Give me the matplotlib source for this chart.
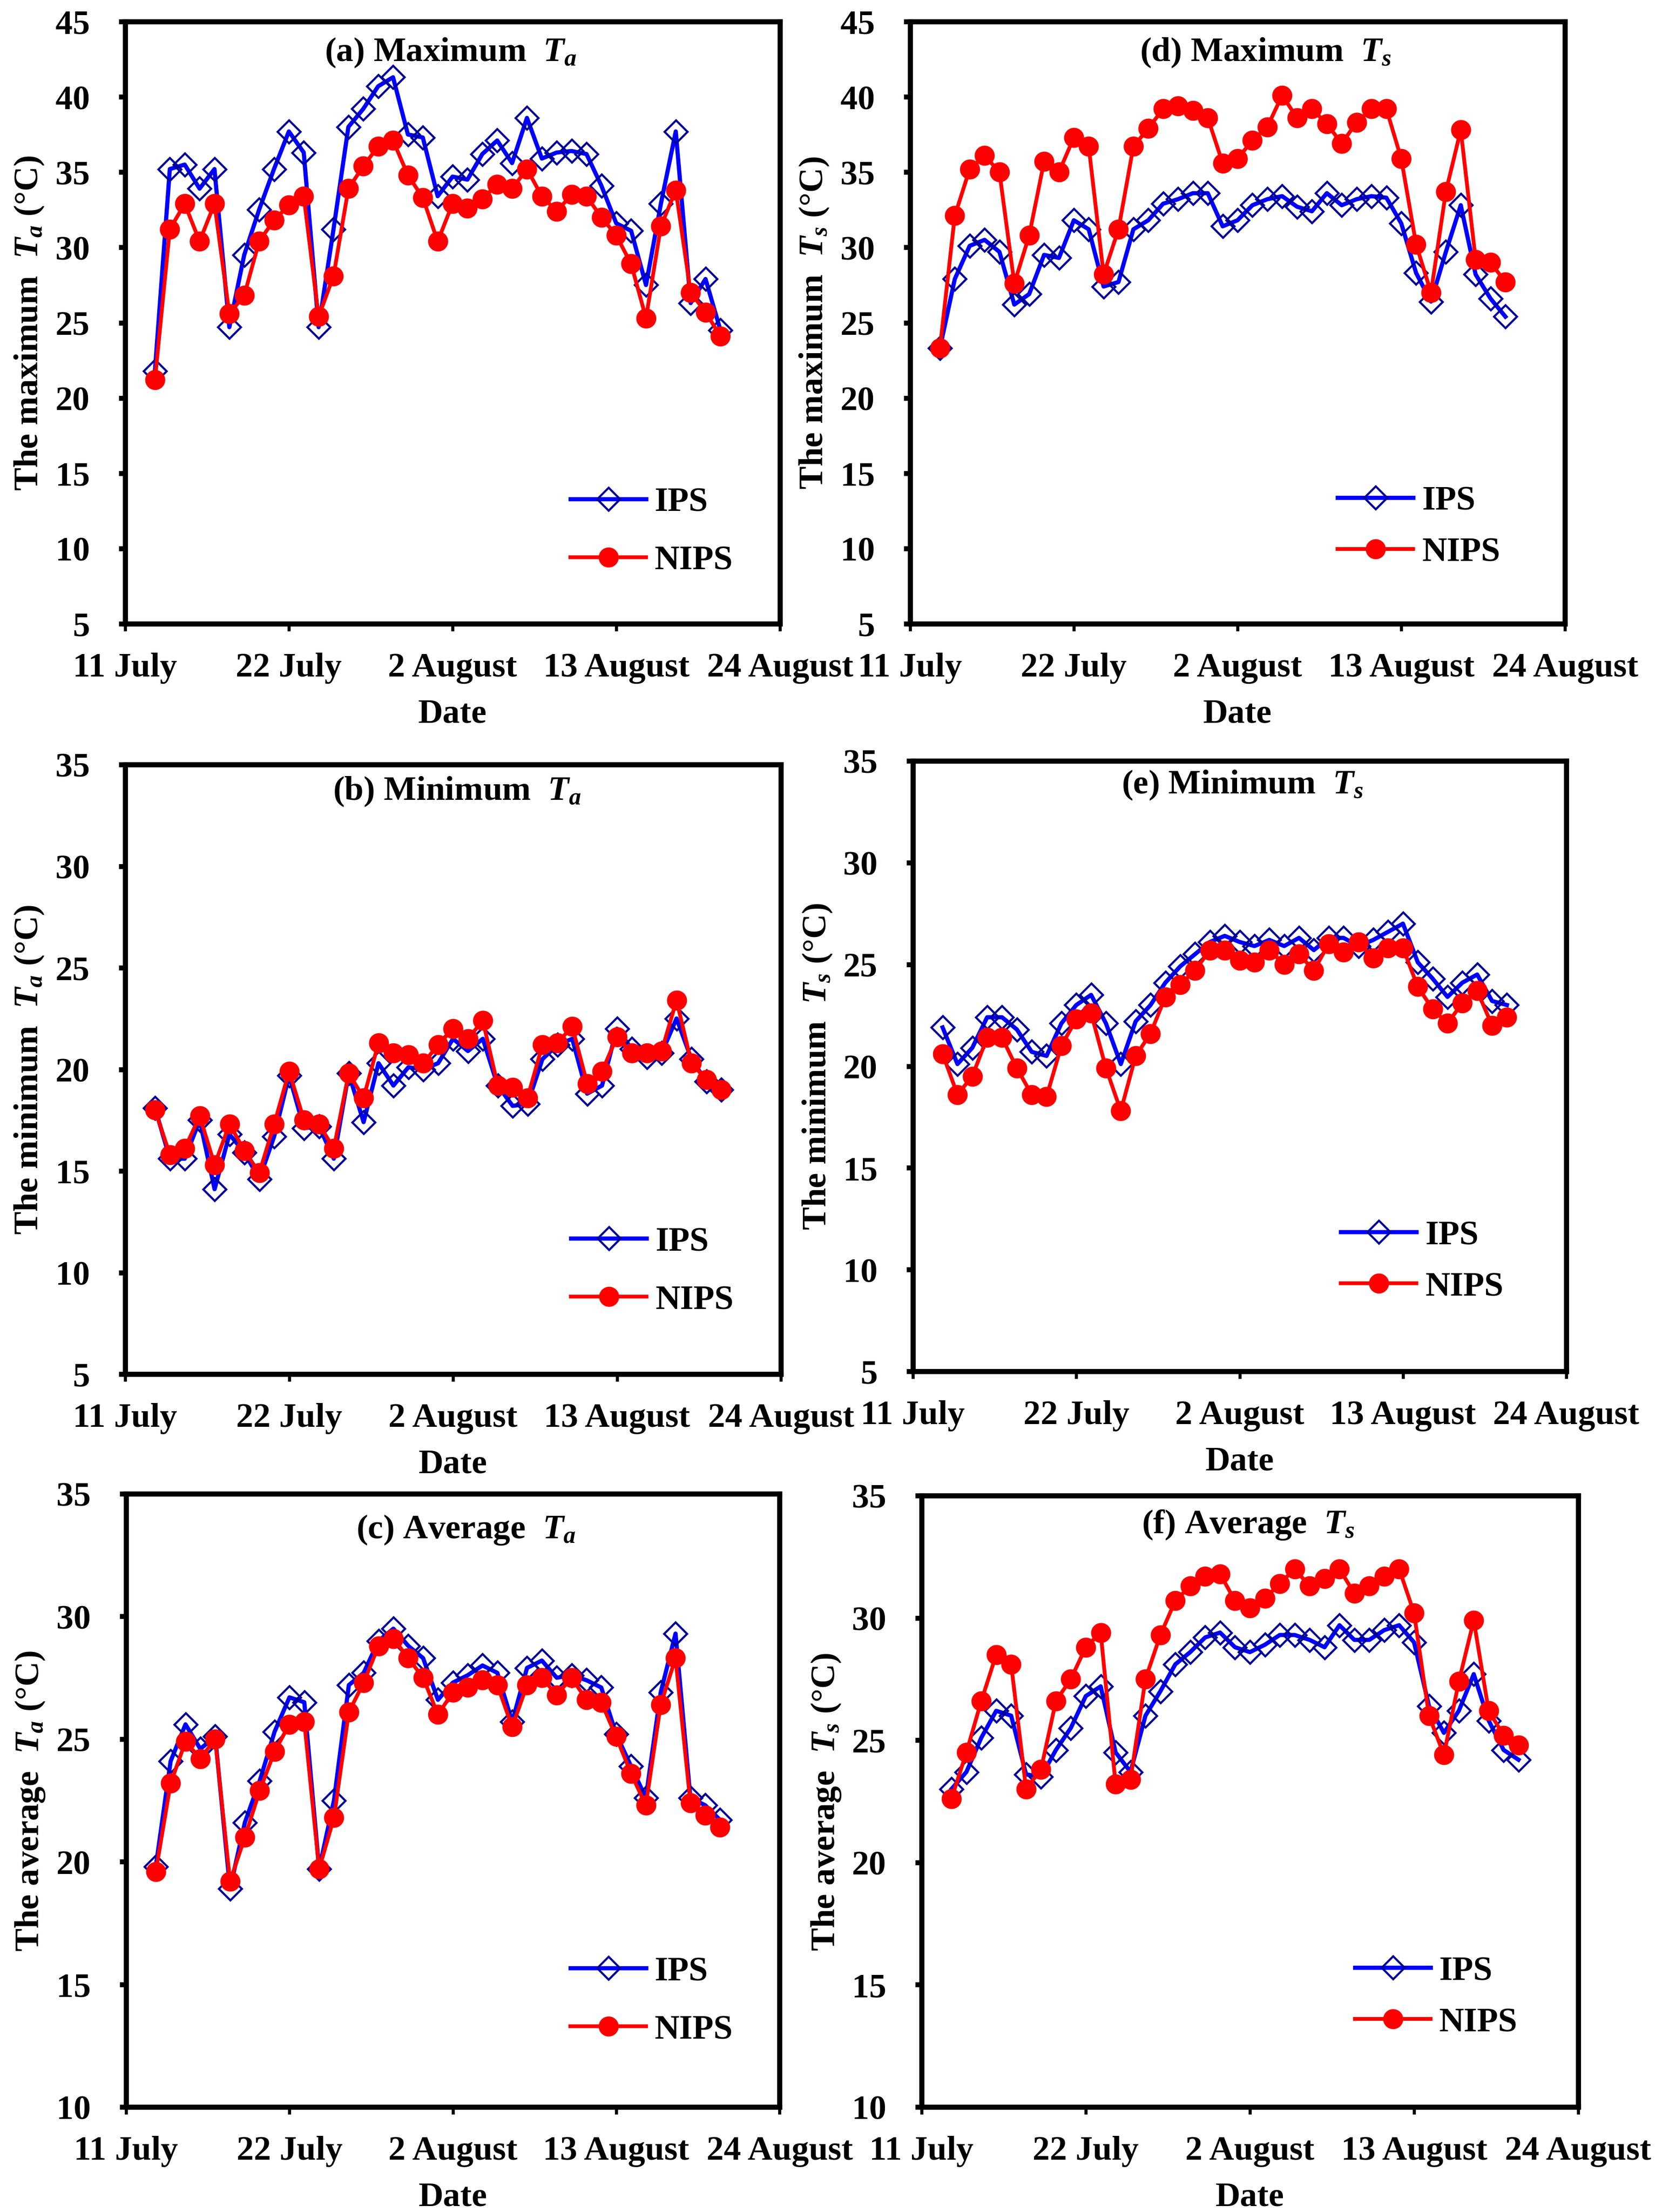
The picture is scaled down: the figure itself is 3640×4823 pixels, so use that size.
import matplotlib
matplotlib.use('Agg')
import matplotlib.pyplot as plt
import numpy as np

plt.rcParams['font.family'] = ['Liberation Serif', 'DejaVu Serif']
plt.rcParams['font.weight'] = 'bold'
plt.rcParams['axes.labelweight'] = 'bold'
plt.rcParams['font.size'] = 18
plt.rcParams['mathtext.fontset'] = 'custom'
plt.rcParams['mathtext.it'] = 'Liberation Serif:italic:bold'
plt.rcParams['mathtext.rm'] = 'Liberation Serif:bold'
plt.rcParams['mathtext.bf'] = 'Liberation Serif:bold'

# daily values, 13 July - 20 August
dates = np.arange(np.datetime64('2018-07-13'), np.datetime64('2018-08-21'))

tick_dates = np.array(['2018-07-11', '2018-07-22', '2018-08-02', '2018-08-13', '2018-08-24'],
                      dtype='datetime64[D]')
tick_labels = ['11 July', '22 July', '2 August', '13 August', '24 August']

ta_max_ips = [21.8, 35.2, 35.5, 33.9, 35.2, 24.7, 29.5, 32.5, 35.2, 37.7, 36.3, 24.7, 31.2,
              38.0, 39.2, 40.7, 41.3, 37.5, 37.3, 33.4, 34.7, 34.5, 36.2, 37.1, 35.6, 38.6,
              35.9, 36.3, 36.4, 36.2, 34.1, 31.6, 31.1, 27.5, 32.9, 37.7, 26.3, 27.9, 24.5]
ta_max_nips = [21.2, 31.2, 32.9, 30.4, 32.9, 25.6, 26.8, 30.4, 31.8, 32.8, 33.4, 25.4, 28.1,
               33.9, 35.4, 36.7, 37.1, 34.8, 33.3, 30.4, 32.9, 32.6, 33.2, 34.2, 33.9, 35.2,
               33.4, 32.4, 33.5, 33.4, 32.0, 30.8, 28.9, 25.3, 31.4, 33.8, 27.0, 25.7, 24.1]

ts_max_ips = [23.3, 27.9, 30.1, 30.5, 29.7, 26.2, 26.9, 29.5, 29.3, 31.8, 31.2, 27.4, 27.7,
              31.2, 31.8, 32.9, 33.2, 33.6, 33.6, 31.4, 31.8, 32.8, 33.2, 33.4, 32.7, 32.4,
              33.6, 32.8, 33.2, 33.4, 33.3, 31.6, 28.3, 26.4, 29.7, 32.8, 28.2, 26.6, 25.4]
ts_max_nips = [23.3, 32.1, 35.2, 36.1, 35.0, 27.6, 30.8, 35.7, 35.0, 37.3, 36.7, 28.2, 31.2,
               36.7, 37.9, 39.2, 39.4, 39.1, 38.6, 35.6, 35.9, 37.1, 38.0, 40.1, 38.6, 39.2,
               38.2, 36.9, 38.3, 39.2, 39.2, 35.9, 30.2, 27.0, 33.7, 37.8, 29.2, 29.0, 27.7]

ta_min_ips = [18.1, 15.6, 15.6, 17.5, 14.1, 16.8, 15.9, 14.6, 16.7, 19.7, 17.1, 17.2, 15.6,
              19.8, 17.4, 20.3, 19.2, 20.1, 20.0, 20.3, 21.5, 20.9, 21.5, 19.2, 18.2, 18.3,
              20.5, 21.2, 21.5, 18.8, 19.2, 22.0, 21.0, 20.6, 20.8, 22.5, 20.5, 19.4, 19.0]
ta_min_nips = [18.0, 15.8, 16.1, 17.7, 15.3, 17.3, 16.0, 14.9, 17.3, 19.9, 17.5, 17.3, 16.1,
               19.8, 18.6, 21.3, 20.8, 20.7, 20.3, 21.2, 22.0, 21.5, 22.4, 19.2, 19.1, 18.6,
               21.2, 21.3, 22.1, 19.3, 19.9, 21.6, 20.8, 20.8, 20.9, 23.4, 20.3, 19.5, 19.0]

ts_min_ips = [21.9, 20.1, 20.9, 22.4, 22.4, 21.8, 20.7, 20.5, 22.1, 23.0, 23.5, 22.1, 20.1,
              22.2, 23.0, 24.1, 24.9, 25.5, 26.1, 26.4, 26.1, 25.9, 26.2, 25.9, 26.3, 25.7,
              26.3, 26.3, 25.9, 26.2, 26.6, 27.0, 25.1, 24.3, 23.4, 24.1, 24.5, 23.2, 23.0]
ts_min_nips = [20.6, 18.6, 19.5, 21.4, 21.4, 19.9, 18.6, 18.5, 21.0, 22.3, 22.6, 19.9, 17.8,
               20.5, 21.6, 23.4, 24.0, 24.7, 25.7, 25.7, 25.2, 25.1, 25.7, 25.0, 25.5, 24.7,
               26.0, 25.6, 26.1, 25.3, 25.8, 25.8, 23.9, 22.8, 22.1, 23.1, 23.7, 22.0, 22.4]

ta_avg_ips = [19.8, 24.1, 25.6, 24.6, 25.1, 18.9, 21.6, 23.3, 25.3, 26.7, 26.5, 19.7, 22.5,
              27.2, 27.7, 29.0, 29.5, 28.8, 28.3, 26.6, 27.3, 27.6, 28.0, 27.7, 25.7, 27.9,
              28.2, 27.5, 27.6, 27.4, 27.1, 25.2, 23.9, 22.6, 26.9, 29.3, 22.6, 22.3, 21.7]
ta_avg_nips = [19.6, 23.2, 24.9, 24.2, 25.0, 19.2, 21.0, 22.9, 24.5, 25.6, 25.7, 19.7, 21.8,
               26.1, 27.3, 28.8, 29.1, 28.3, 27.5, 26.0, 26.9, 27.1, 27.4, 27.2, 25.5, 27.2,
               27.5, 26.8, 27.5, 26.6, 26.5, 25.1, 23.6, 22.3, 26.4, 28.3, 22.4, 21.9, 21.4]

ts_avg_ips = [23.0, 23.7, 25.1, 26.2, 26.0, 23.6, 23.5, 24.6, 25.5, 26.8, 27.2, 24.5, 23.7,
              26.0, 27.0, 28.1, 28.6, 29.2, 29.4, 28.8, 28.6, 28.9, 29.3, 29.3, 29.1, 28.8,
              29.7, 29.1, 29.1, 29.5, 29.7, 29.0, 26.4, 25.3, 26.2, 27.7, 25.8, 24.6, 24.2]
ts_avg_nips = [22.6, 24.5, 26.6, 28.5, 28.1, 23.0, 23.8, 26.6, 27.5, 28.8, 29.4, 23.2, 23.4,
               27.5, 29.3, 30.7, 31.3, 31.7, 31.8, 30.7, 30.4, 30.8, 31.4, 32.0, 31.3, 31.6,
               32.0, 31.0, 31.3, 31.7, 32.0, 30.2, 26.0, 24.4, 27.4, 29.9, 26.2, 25.2, 24.8]

W, H = 3640, 4824


def px_box(left, right, top, bottom):
    return [left / W, 1 - bottom / H, (right - left) / W, (bottom - top) / H]


# (axes box in px, ips, nips, ylim, title, ylabel, title pos, legend pos, legend spacing)
panels = [
    (px_box(273, 1701, 48, 1361), ta_max_ips, ta_max_nips, (5, 45),
     r'(a) Maximum  $T_a$', r'The maximum  $T_a$ (°C)', (0.497, 0.949), (0.68, 0.153), 0.78),
    (px_box(1985, 3413, 48, 1361), ts_max_ips, ts_max_nips, (5, 45),
     r'(d) Maximum  $T_s$', r'The maximum  $T_s$ (°C)', (0.543, 0.949), (0.653, 0.161), 0.58),
    (px_box(273, 1703, 1668, 2997), ta_min_ips, ta_min_nips, (5, 35),
     r'(b) Minimum  $T_a$', r'The minimum  $T_a$ (°C)', (0.506, 0.956), (0.68, 0.169), 0.78),
    (px_box(1991, 3416, 1660, 2991), ts_min_ips, ts_min_nips, (5, 35),
     r'(e) Minimum  $T_s$', r'The minimum  $T_s$ (°C)', (0.504, 0.961), (0.655, 0.18), 0.58),
    (px_box(275, 1700, 3258, 4595), ta_avg_ips, ta_avg_nips, (10, 35),
     r'(c) Average  $T_a$', r'The average  $T_a$ (°C)', (0.52, 0.942), (0.68, 0.173), 0.78),
    (px_box(2010, 3442, 3262, 4595), ts_avg_ips, ts_avg_nips, (10, 35),
     r'(f) Average  $T_s$', r'The average  $T_s$ (°C)', (0.497, 0.953), (0.66, 0.18), 0.58),
]

fig = plt.figure(figsize=(W / 300, H / 300), dpi=300)

for box, ips, nips, ylim, title, ylabel, tpos, lpos, lspace in panels:
    ax = fig.add_axes(box)
    ax.plot(dates, ips, color='#0000FF', lw=2.2, marker='D', ms=8.5, mfc='none',
            mec='#000099', mew=1.1, label='IPS')
    ax.plot(dates, nips, color='#FF0000', lw=2.0, marker='o', ms=10, mfc='#FF0000',
            mec='#FF0000', mew=0.5, label='NIPS')

    ax.set_xlim(tick_dates[0], tick_dates[-1])
    ax.set_xticks(tick_dates)
    ax.set_xticklabels(tick_labels)
    ax.set_ylim(*ylim)
    ax.set_yticks(np.arange(ylim[0], ylim[1] + 1, 5))

    ax.tick_params(axis='x', direction='out', length=3.8, width=1.6, pad=11)
    ax.tick_params(axis='y', direction='out', length=3.4, width=2.6, pad=15)
    for sp in ax.spines.values():
        sp.set_linewidth(2.7)

    ax.set_xlabel('Date', labelpad=8)
    ax.set_ylabel(ylabel, labelpad=5)
    ax.text(tpos[0], tpos[1], title, transform=ax.transAxes, ha='center', va='center')

    ax.legend(loc='center left', bbox_to_anchor=lpos, frameon=False, borderpad=0,
              borderaxespad=0, handlelength=2.2, handletextpad=0.25, labelspacing=lspace)

fig.savefig('out.png', dpi=300)
